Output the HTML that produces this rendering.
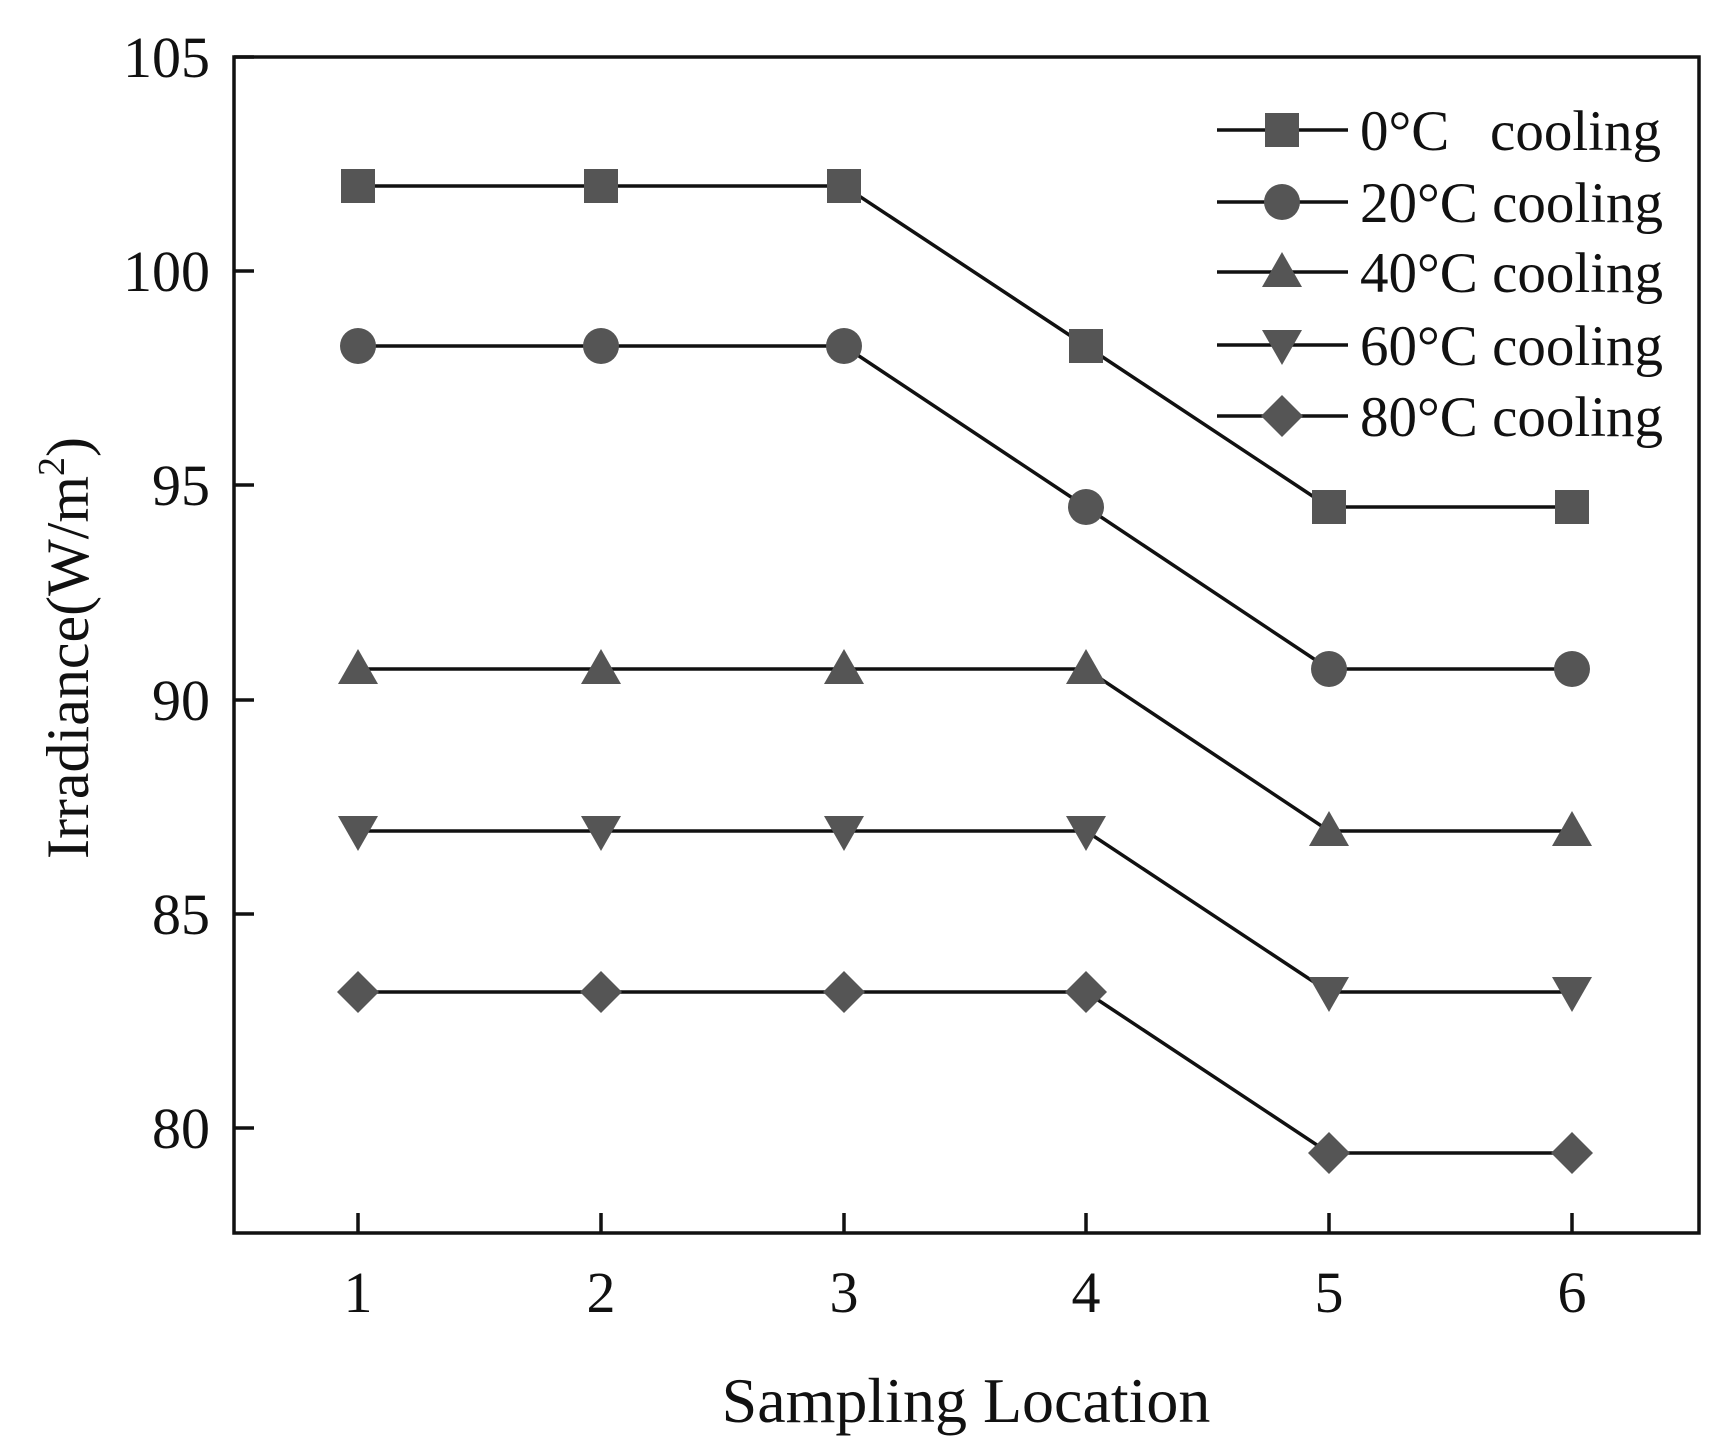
<!DOCTYPE html><html><head><style>body{margin:0;background:#fff}svg{display:block}text{font-family:"Liberation Serif",serif;fill:#111}</style></head><body>
<svg width="1713" height="1443" viewBox="0 0 1713 1443">
<defs>
<g id="sq"><rect x="-17" y="-17" width="34" height="34" fill="#555"/></g>
<g id="ci"><circle r="18" fill="#555"/></g>
<g id="tu"><polygon points="0,-20 20,15 -20,15" fill="#555"/></g>
<g id="td"><polygon points="0,20 20,-15 -20,-15" fill="#555"/></g>
<g id="di"><polygon points="0,-21 21,0 0,21 -21,0" fill="#555"/></g>
</defs>
<rect x="234" y="57" width="1465" height="1176" fill="none" stroke="#111" stroke-width="3.5"/>
<g stroke="#111" stroke-width="3.5">
<line x1="234" y1="57" x2="254" y2="57"/><line x1="234" y1="271" x2="254" y2="271"/><line x1="234" y1="485" x2="254" y2="485"/><line x1="234" y1="700" x2="254" y2="700"/><line x1="234" y1="914" x2="254" y2="914"/><line x1="234" y1="1128" x2="254" y2="1128"/>
<line x1="358" y1="1233" x2="358" y2="1213"/><line x1="601" y1="1233" x2="601" y2="1213"/><line x1="844" y1="1233" x2="844" y2="1213"/><line x1="1086" y1="1233" x2="1086" y2="1213"/><line x1="1329" y1="1233" x2="1329" y2="1213"/><line x1="1572" y1="1233" x2="1572" y2="1213"/>
</g>
<g font-size="58" text-anchor="end">
<text x="210" y="77">105</text><text x="210" y="291">100</text><text x="210" y="505">95</text><text x="210" y="720">90</text><text x="210" y="934">85</text><text x="210" y="1148">80</text>
</g>
<g font-size="58" text-anchor="middle">
<text x="358" y="1312">1</text><text x="601" y="1312">2</text><text x="844" y="1312">3</text><text x="1086" y="1312">4</text><text x="1329" y="1312">5</text><text x="1572" y="1312">6</text>
</g>
<text x="966" y="1422" font-size="64" text-anchor="middle">Sampling Location</text>
<text transform="translate(88,648) rotate(-90)" font-size="60" text-anchor="middle">Irradiance(W/m<tspan font-size="38" dy="-24">2</tspan><tspan dy="24">)</tspan></text>
<g fill="none" stroke="#111" stroke-width="3.5">
<polyline points="358,186 601,186 844,186 1086,346 1329,507 1572,507"/>
<polyline points="358,346 601,346 844,346 1086,507 1329,669 1572,669"/>
<polyline points="358,669 601,669 844,669 1086,669 1329,831 1572,831"/>
<polyline points="358,831 601,831 844,831 1086,831 1329,992 1572,992"/>
<polyline points="358,992 601,992 844,992 1086,992 1329,1153 1572,1153"/>
<line x1="1217" y1="130" x2="1348" y2="130"/><line x1="1217" y1="202" x2="1348" y2="202"/><line x1="1217" y1="272" x2="1348" y2="272"/><line x1="1217" y1="345" x2="1348" y2="345"/><line x1="1217" y1="416" x2="1348" y2="416"/>
</g>
<use href="#sq" x="358" y="186"/><use href="#sq" x="601" y="186"/><use href="#sq" x="844" y="186"/><use href="#sq" x="1086" y="346"/><use href="#sq" x="1329" y="507"/><use href="#sq" x="1572" y="507"/>
<use href="#ci" x="358" y="346"/><use href="#ci" x="601" y="346"/><use href="#ci" x="844" y="346"/><use href="#ci" x="1086" y="507"/><use href="#ci" x="1329" y="669"/><use href="#ci" x="1572" y="669"/>
<use href="#tu" x="358" y="669"/><use href="#tu" x="601" y="669"/><use href="#tu" x="844" y="669"/><use href="#tu" x="1086" y="669"/><use href="#tu" x="1329" y="831"/><use href="#tu" x="1572" y="831"/>
<use href="#td" x="358" y="831"/><use href="#td" x="601" y="831"/><use href="#td" x="844" y="831"/><use href="#td" x="1086" y="831"/><use href="#td" x="1329" y="992"/><use href="#td" x="1572" y="992"/>
<use href="#di" x="358" y="992"/><use href="#di" x="601" y="992"/><use href="#di" x="844" y="992"/><use href="#di" x="1086" y="992"/><use href="#di" x="1329" y="1153"/><use href="#di" x="1572" y="1153"/>
<use href="#sq" x="1282" y="130"/><use href="#ci" x="1282" y="202"/><use href="#tu" x="1282" y="272"/><use href="#td" x="1282" y="345"/><use href="#di" x="1282" y="416"/>
<g font-size="57">
<text x="1360" y="150">0°C</text><text x="1661" y="150" text-anchor="end">cooling</text><text x="1360" y="222">20°C cooling</text><text x="1360" y="292">40°C cooling</text><text x="1360" y="365">60°C cooling</text><text x="1360" y="436">80°C cooling</text>
</g>
</svg></body></html>
